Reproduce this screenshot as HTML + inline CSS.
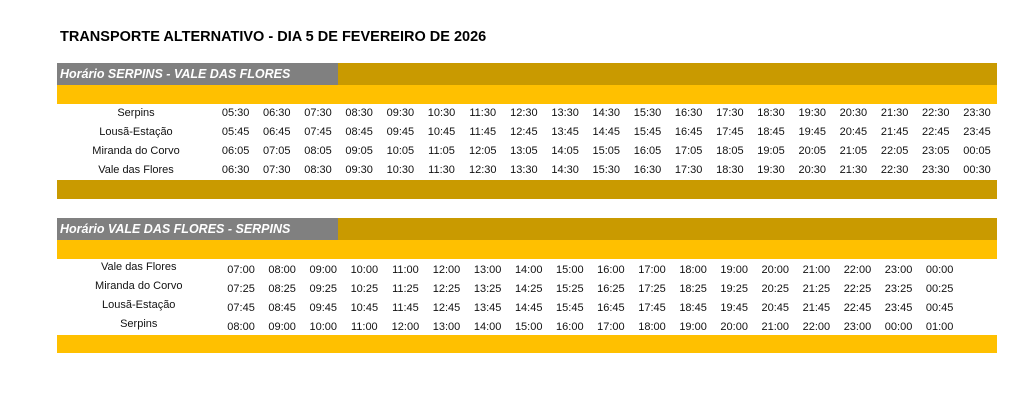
<!DOCTYPE html>
<html><head><meta charset="utf-8"><style>
body{margin:0;width:1024px;height:403px;background:#fff;font-family:"Liberation Sans",Arial,sans-serif;position:relative;overflow:hidden}
.t{position:absolute;left:60px;top:29px;font-size:14.5px;font-weight:bold;color:#000}
.bar{position:absolute;left:57px;width:940px}
.hdr{height:22px;background:#C99A00}
.hdr .g{position:absolute;left:0;top:0;width:281px;height:22px;background:#808080;color:#fff;font-style:italic;font-weight:bold;font-size:12.5px;line-height:22px;padding-left:3px;box-sizing:border-box}
.y{background:#FFC000}
.d{background:#C99A00}
.row{position:absolute;left:57px;height:19px;display:flex;font-size:11px;color:#111;line-height:19px}
.row .l{width:158px;text-align:center}
.r1 .c{width:41.2px;text-align:center}
.r2 .c{width:41.1px;text-align:center}
.r2 .l{width:163.5px;position:relative;top:-3px}
</style></head><body>
<div class="t">TRANSPORTE ALTERNATIVO - DIA 5 DE FEVEREIRO DE 2026</div>

<div class="bar hdr" style="top:63px"><div class="g">Horário SERPINS - VALE DAS FLORES</div></div>
<div class="bar y" style="top:85px;height:19px"></div>
<div class="row r1" style="top:104px"><div class="l">Serpins</div><div class="c">05:30</div><div class="c">06:30</div><div class="c">07:30</div><div class="c">08:30</div><div class="c">09:30</div><div class="c">10:30</div><div class="c">11:30</div><div class="c">12:30</div><div class="c">13:30</div><div class="c">14:30</div><div class="c">15:30</div><div class="c">16:30</div><div class="c">17:30</div><div class="c">18:30</div><div class="c">19:30</div><div class="c">20:30</div><div class="c">21:30</div><div class="c">22:30</div><div class="c">23:30</div></div>
<div class="row r1" style="top:123px"><div class="l">Lousã-Estação</div><div class="c">05:45</div><div class="c">06:45</div><div class="c">07:45</div><div class="c">08:45</div><div class="c">09:45</div><div class="c">10:45</div><div class="c">11:45</div><div class="c">12:45</div><div class="c">13:45</div><div class="c">14:45</div><div class="c">15:45</div><div class="c">16:45</div><div class="c">17:45</div><div class="c">18:45</div><div class="c">19:45</div><div class="c">20:45</div><div class="c">21:45</div><div class="c">22:45</div><div class="c">23:45</div></div>
<div class="row r1" style="top:142px"><div class="l">Miranda do Corvo</div><div class="c">06:05</div><div class="c">07:05</div><div class="c">08:05</div><div class="c">09:05</div><div class="c">10:05</div><div class="c">11:05</div><div class="c">12:05</div><div class="c">13:05</div><div class="c">14:05</div><div class="c">15:05</div><div class="c">16:05</div><div class="c">17:05</div><div class="c">18:05</div><div class="c">19:05</div><div class="c">20:05</div><div class="c">21:05</div><div class="c">22:05</div><div class="c">23:05</div><div class="c">00:05</div></div>
<div class="row r1" style="top:161px"><div class="l">Vale das Flores</div><div class="c">06:30</div><div class="c">07:30</div><div class="c">08:30</div><div class="c">09:30</div><div class="c">10:30</div><div class="c">11:30</div><div class="c">12:30</div><div class="c">13:30</div><div class="c">14:30</div><div class="c">15:30</div><div class="c">16:30</div><div class="c">17:30</div><div class="c">18:30</div><div class="c">19:30</div><div class="c">20:30</div><div class="c">21:30</div><div class="c">22:30</div><div class="c">23:30</div><div class="c">00:30</div></div>
<div class="bar d" style="top:180px;height:19px"></div>

<div class="bar hdr" style="top:218px"><div class="g">Horário VALE DAS FLORES - SERPINS</div></div>
<div class="bar y" style="top:240px;height:19px"></div>
<div class="row r2" style="top:261px"><div class="l">Vale das Flores</div><div class="c">07:00</div><div class="c">08:00</div><div class="c">09:00</div><div class="c">10:00</div><div class="c">11:00</div><div class="c">12:00</div><div class="c">13:00</div><div class="c">14:00</div><div class="c">15:00</div><div class="c">16:00</div><div class="c">17:00</div><div class="c">18:00</div><div class="c">19:00</div><div class="c">20:00</div><div class="c">21:00</div><div class="c">22:00</div><div class="c">23:00</div><div class="c">00:00</div></div>
<div class="row r2" style="top:280px"><div class="l">Miranda do Corvo</div><div class="c">07:25</div><div class="c">08:25</div><div class="c">09:25</div><div class="c">10:25</div><div class="c">11:25</div><div class="c">12:25</div><div class="c">13:25</div><div class="c">14:25</div><div class="c">15:25</div><div class="c">16:25</div><div class="c">17:25</div><div class="c">18:25</div><div class="c">19:25</div><div class="c">20:25</div><div class="c">21:25</div><div class="c">22:25</div><div class="c">23:25</div><div class="c">00:25</div></div>
<div class="row r2" style="top:299px"><div class="l">Lousã-Estação</div><div class="c">07:45</div><div class="c">08:45</div><div class="c">09:45</div><div class="c">10:45</div><div class="c">11:45</div><div class="c">12:45</div><div class="c">13:45</div><div class="c">14:45</div><div class="c">15:45</div><div class="c">16:45</div><div class="c">17:45</div><div class="c">18:45</div><div class="c">19:45</div><div class="c">20:45</div><div class="c">21:45</div><div class="c">22:45</div><div class="c">23:45</div><div class="c">00:45</div></div>
<div class="row r2" style="top:318px"><div class="l">Serpins</div><div class="c">08:00</div><div class="c">09:00</div><div class="c">10:00</div><div class="c">11:00</div><div class="c">12:00</div><div class="c">13:00</div><div class="c">14:00</div><div class="c">15:00</div><div class="c">16:00</div><div class="c">17:00</div><div class="c">18:00</div><div class="c">19:00</div><div class="c">20:00</div><div class="c">21:00</div><div class="c">22:00</div><div class="c">23:00</div><div class="c">00:00</div><div class="c">01:00</div></div>
<div class="bar y" style="top:335px;height:18px"></div>
</body></html>
